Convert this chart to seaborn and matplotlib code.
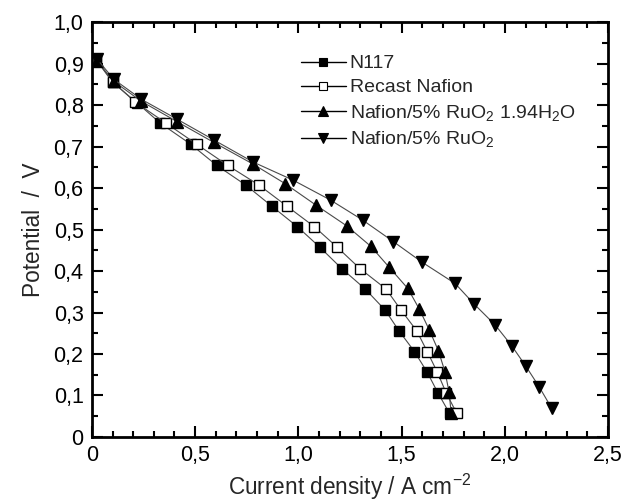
import matplotlib
matplotlib.use("Agg")
import matplotlib.pyplot as plt
import seaborn as sns
import numpy as np
import pandas as pd
from matplotlib.ticker import MultipleLocator, FixedLocator, FixedFormatter
from matplotlib.lines import Line2D

# ---- data ----
n117_x = [0.02, 0.10, 0.22, 0.33, 0.478, 0.604, 0.746, 0.87, 0.995, 1.105, 1.21, 1.323, 1.42, 1.487, 1.562, 1.624, 1.675, 1.732]
n117_y = [0.910, 0.855, 0.805, 0.757, 0.706, 0.655, 0.607, 0.557, 0.507, 0.457, 0.406, 0.357, 0.306, 0.256, 0.206, 0.156, 0.107, 0.057]

recast_x = [0.02, 0.103, 0.208, 0.358, 0.507, 0.657, 0.81, 0.943, 1.077, 1.189, 1.298, 1.424, 1.497, 1.573, 1.624, 1.673, 1.715, 1.767]
recast_y = [0.910, 0.856, 0.808, 0.757, 0.706, 0.655, 0.607, 0.557, 0.507, 0.457, 0.406, 0.357, 0.306, 0.256, 0.206, 0.156, 0.107, 0.057]

hyd_x = [0.023, 0.107, 0.24, 0.413, 0.591, 0.78, 0.935, 1.085, 1.234, 1.35, 1.44, 1.53, 1.586, 1.634, 1.678, 1.71, 1.73, 1.74]
hyd_y = [0.907, 0.857, 0.809, 0.760, 0.710, 0.658, 0.611, 0.559, 0.509, 0.460, 0.409, 0.358, 0.308, 0.258, 0.208, 0.157, 0.108, 0.057]

ru_x = [0.023, 0.107, 0.24, 0.413, 0.591, 0.78, 0.975, 1.156, 1.311, 1.46, 1.597, 1.759, 1.852, 1.953, 2.033, 2.101, 2.166, 2.227]
ru_y = [0.912, 0.862, 0.814, 0.766, 0.716, 0.663, 0.619, 0.571, 0.523, 0.471, 0.422, 0.370, 0.320, 0.270, 0.220, 0.171, 0.121, 0.069]

labels = ["N117", "Recast Nafion", "Nafion/5% RuO$_2$ 1.94H$_2$O", "Nafion/5% RuO$_2$"]

xtick_vals = [0, 0.5, 1.0, 1.5, 2.0, 2.5]
xtick_labels = ["0", "0,5", "1,0", "1,5", "2,0", "2,5"]
ytick_vals = [0, 0.1, 0.2, 0.3, 0.4, 0.5, 0.6, 0.7, 0.8, 0.9, 1.0]
ytick_labels = ["0", "0,1", "0,2", "0,3", "0,4", "0,5", "0,6", "0,7", "0,8", "0,9", "1,0"]

# ---- style ----
sns.set_style("ticks")
plt.rcParams['font.family'] = ['Liberation Sans', 'DejaVu Sans']
plt.rcParams['mathtext.fontset'] = 'custom'
plt.rcParams['mathtext.rm'] = 'Liberation Sans'
plt.rcParams['mathtext.it'] = 'Liberation Sans:italic'
plt.rcParams['mathtext.bf'] = 'Liberation Sans:bold'
plt.rcParams['mathtext.default'] = 'regular'

fig = plt.figure(figsize=(6.25, 5.04), dpi=100)
ax = fig.add_axes([0.147, 0.133, 0.826, 0.823])

series = [
    (n117_x, n117_y, 's', 'black', 6.5),
    (recast_x, recast_y, 's', 'white', 6.5),
    (hyd_x, hyd_y, '^', 'black', 8),
    (ru_x, ru_y, 'v', 'black', 8),
]
line_col = '#4a4a4a'
for (xs, ys, mk, fc, ms), lab in zip(series, labels):
    df = pd.DataFrame({"x": xs, "y": ys})
    sns.lineplot(data=df, x="x", y="y", ax=ax, sort=False, estimator=None,
                 color=line_col, linewidth=0.8, marker=mk, markersize=ms,
                 markerfacecolor=fc, markeredgecolor='black', markeredgewidth=1.0,
                 legend=False)

handles = []
for (xs, ys, mk, fc, ms), lab in zip(series, labels):
    handles.append(Line2D([], [], color='black', lw=1.0, marker=mk,
                          markersize=ms * 0.85, markerfacecolor=fc,
                          markeredgecolor='black', markeredgewidth=0.8, label=lab))
leg = ax.legend(handles=handles, loc='upper left', bbox_to_anchor=(0.39, 0.94),
                frameon=False, fontsize=14, handlelength=2.3, handletextpad=0.2,
                labelspacing=0.33, borderaxespad=0)

ax.set_xlim(0, 2.5)
ax.set_ylim(0, 1.0)
ax.xaxis.set_major_locator(FixedLocator(xtick_vals))
ax.xaxis.set_major_formatter(FixedFormatter(xtick_labels))
ax.yaxis.set_major_locator(FixedLocator(ytick_vals))
ax.yaxis.set_major_formatter(FixedFormatter(ytick_labels))
ax.xaxis.set_minor_locator(MultipleLocator(0.1))
ax.yaxis.set_minor_locator(MultipleLocator(0.05))
ax.tick_params(which='both', direction='in', top=True, right=True, width=1.5, labelsize=15.5, colors='black')
ax.tick_params(which='major', length=8, pad=6)
ax.tick_params(which='minor', length=4.5)
for s in ax.spines.values():
    s.set_linewidth(2)
    s.set_color('black')

ax.set_xlabel("Current density / A cm$^{-2}$", fontsize=16.3, labelpad=4)
ax.set_ylabel("Potential  /  V", fontsize=16.3, labelpad=6)

fig.savefig("out.png", dpi=100)
